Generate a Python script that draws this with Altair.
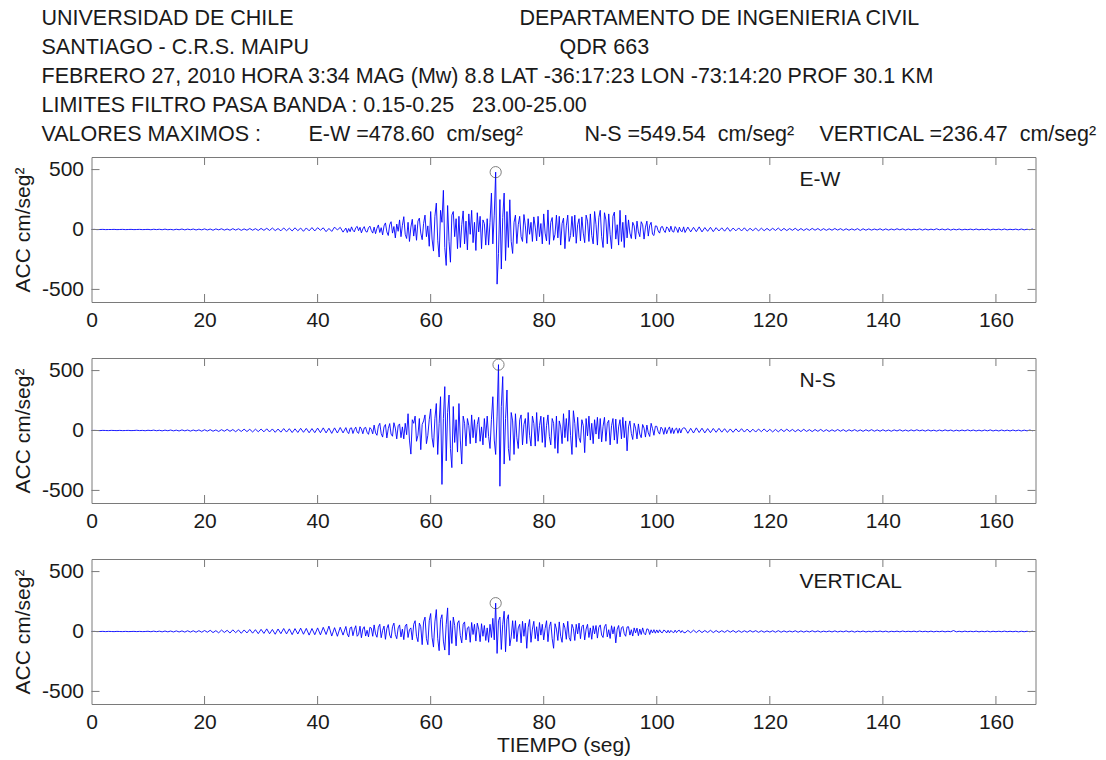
import altair as alt
import numpy as np
import pandas as pd

DT_SLOW, DT_FAST = 0.5, 0.25

EW_PRE = [
    0, 1, -1, 0, 1, -1, 0, 0, 1, -1, 0, 1, -1, 0, 1, -1, 0, 1, -1, 0,
    1, -2, 2, -1, 2, -2, 3, -2, 1, -3, 2, -2, 4, -3, 3, -2, 4, -4, 3, -3,
    5, -4, 4, -6, 5, -3, 6, -5, 4, -6, 7, -5, 6, -7, 5, -6, 8, -6, 7, -8,
    9, -7, 10, -8, 12, -9, 8, -11, 13, -10, 11, -12, 14, -10, 12, -15, 13, -11, 16, -12,
    15, -6, 14, -18, 9, -16, 20, -4, 18, -22,
]
EW_MAIN = [
    12, -25, 8, -18, 22, -6, -20, 15, 26, -10, 18, -28, 5, 24, -15, -22, 14, 28, -8, -30,
    20, -35, 10, 38, -25, 15, -45, 30, 55, -20, -50, 40, 65, -30, 25, -70, 45, -15, 80, -60,
    35, 107, -40, -75, 60, -100, 20, 85, -55, 40, -90, 70, 95, -30, -85, 50, 120, -60, 30, -140,
    150, -80, -180, 110, 220, -90, -230, 160, 60, 327, -150, -300, 200, -100, -273, 120, 150, -60, 90, -160,
    110, -150, 40, 155, -120, 70, -170, 130, -40, 160, -110, 60, -175, 140, -20, 110, -160, 80, 50, -130,
    90, -130, 60, 304, -120, 120, 478.60, -456, -200, 250, -330, 100, 304, -259, 150, -150, 248, -100, -200, 60,
    120, -118, 40, 110, -60, -100, 125, 30, -115, 90, -40, 60, -100, 105, 20, -95, 110, -60, 50, -120,
    130, -30, -95, 163, -125, 60, 100, -90, -40, 120, -70, 110, -130, 50, 95, -160, 30, 120, -100, -50,
    110, -60, 120, -115, 40, 90, -95, 105, -30, -110, 120, 70, -100, 130, -50, -120, 150, 40, -130, 100,
    160, -60, -150, 140, 80, -120, 130, -40, -160, 110, 145, -80, 40, -130, 160, -100, 60, -150, 120, -70,
    80, -30, -75, 60, 30, -80, 70, -20, -60, 65, 40, -80, 20, 70, -55, 35, 60, -40, -50, 30,
    28, -12, -30, 20, 25, -8, -25, 22, 10, -20, 28, -15, -22, 24, 6, -25, 20, -12, -18, 22,
]
EW_POST = [
    -25, 20, -20, 18, -18, 22, -20, 16, -15, 18,
    -18, 15, -12, 14, -14, 16, -15, 12, -11, 13, -12, 14, -13, 10, -10, 12, -12, 11, -10, 9,
    -9, 10, -8, 12, -10, 9, -9, 8, -7, 10, -9, 8, -8, 7, -7, 9, -6, 8, -8, 7,
    -7, 6, -6, 8, -5, 7, -7, 6, -6, 5, -5, 7, -8, 6, -6, 5, -5, 4, -4, 6,
    -6, 5, -5, 4, -4, 6, -3, 5, -5, 4, -4, 3, -3, 5, -5, 4, -4, 3, -3, 6,
    -3, 4, -4, 5, -5, 3, -3, 4, -4, 2, -2, 3, -3, 4, -3, 2, -2, 4, -4, 3,
    -2, 3, -3, 4, -3, 2, -2, 3, -3, 4, -3, 2, -2, 5,
]

NS_PRE = [
    0, 1, 0, -1, 1, 0, -1, 1, 0, -1, 1, -1, 0, 1, -1, 0, 2, -1, 1, -2,
    2, -1, 3, -2, 2, -3, 3, -2, 4, -3, 3, -4, 5, -3, 4, -5, 4, -4, 5, -6,
    6, -5, 7, -6, 5, -8, 7, -6, 9, -7, 8, -10, 9, -8, 11, -9, 10, -12, 11, -10,
    12, -11, 14, -12, 13, -15, 12, -14, 16, -13, 15, -17, 14, -16, 18, -15, 17, -19, 16, -18,
    20, -18, 22, -20, 19, -24, 22, -21, 25, -20,
]
NS_MAIN = [
    24, -10, -26, 18, 22, -25, 8, 28, -14, -24, 30, 12, -27, 20, 26, -15, -32, 24, 10, -28,
    45, -20, -40, 35, 60, -25, -55, 30, 50, -62, 15, 58, -30, -48, 65, 20, -70, 40, 55, -60,
    30, -70, 60, -35, 140, -80, -197, 90, 60, 120, -90, -40, 100, -160, 50, 80, 130, -110, -40, 90,
    180, -60, -140, 100, 225, -200, 60, 282, -450, 100, 366, -253, 150, 296, -150, -310, 200, -100, 90, -180,
    225, -80, -280, 120, 60, -130, 100, 40, -110, 130, -60, 90, -105, 50, 110, -90, 30, -120, 100, -60,
    120, -50, -150, 90, 282, -80, -200, 120, 549.54, -465, 200, 450, -280, 100, 338, -150, -250, 150, 80, -200,
    140, -60, -150, 90, 130, -120, 50, 100, -110, 150, -40, -130, 120, 60, -130, 150, -90, 40, 120, -100,
    110, -140, 40, 130, -50, -120, 100, 60, -150, 120, -190, 80, 30, -110, 140, -60, 100, -90, 170, -40,
    -200, 165, 60, -140, 110, -60, -100, 90, 40, -185, 100, -45, 120, -80, 60, -110, 90, -30, 110, -70,
    100, -95, 35, 110, -90, 60, 85, -120, 40, 100, -80, 95, -110, 30, 90, -70, 110, -60, 80, -170,
    30, 80, -25, -75, 60, 20, -70, 55, -30, -60, 50, 20, -55, 45, -20, -50, 60, 15, -40, 35,
    35, -10, -30, 28, 12, -32, 25, -27, 8, 30, -24, 22, -26, 10, 20, -23, 18, -21, 14, 22,
]
NS_POST = [
    20, -23, 18, -21, 22, -17, 19, -20, 16, -18,
    17, -15, 18, -14, 15, -16, 13, -15, 14, -12, 15, -13, 12, -14, 11, -13, 12, -10, 13, -11,
    10, -12, 9, -11, 10, -9, 11, -8, 9, -10, 8, -9, 10, -8, 7, -9, 8, -7, 9, -8,
    7, -8, 6, -7, 8, -6, 7, -8, 6, -5, 7, -6, 5, -7, 6, -5, 7, -6, 5, -6,
    6, -5, 4, -6, 5, -4, 6, -5, 4, -5, 5, -4, 6, -3, 4, -5, 5, -4, 3, -5,
    4, -4, 5, -3, 4, -5, 3, -4, 4, -3, 5, -3, 4, -4, 3, -4, 4, -3, 5, -4,
    3, -4, 4, -3, 3, -4, 4, -3, 3, -4, 3, -3, 4, -3,
]

VT_PRE = [
    0, 1, -1, 0, 1, -1, 1, 0, -1, 1, 0, -1, 1, -1, 0, 1, -1, 1, -1, 0,
    2, -2, 3, -2, 3, -3, 4, -3, 4, -4, 5, -4, 5, -5, 6, -5, 6, -6, 7, -6,
    8, -6, 10, -9, 7, -11, 12, -8, 10, -13, 14, -10, 12, -15, 13, -12, 17, -14, 15, -18,
    18, -16, 22, -19, 17, -23, 21, -18, 25, -20, 22, -26, 24, -21, 28, -23, 26, -30, 25, -27,
    30, -28, 35, -25, 45, -38, 32, -40, 36, -30,
]
VT_MAIN = [
    42, -20, -45, 30, 38, -35, 15, 48, -40, -25, 44, -52, 20, 40, -38, 10, -45, 35, 28, -40,
    55, -20, -48, 35, 60, -52, 10, 45, -65, 25, 58, -30, -55, 40, 70, -25, -60, 30, 55, -45,
    20, -68, 45, 62, -50, 15, 30, -70, 60, 90, -40, -85, 70, 40, -110, 80, 120, -60, -110, 90,
    150, -50, -130, 80, 183, -60, -160, 100, 140, -80, -155, 60, 197, -197, 90, -100, 120, 50, -120, 70,
    90, -35, -95, 60, 80, -70, 30, 40, -90, 75, -25, 60, -80, 70, 20, -85, 65, -40, 50, -75,
    30, -90, 60, -50, 110, -70, 236.47, -183, 90, 120, -150, 60, 169, -169, 100, 140, -120, -45, 90, -60,
    90, -85, 30, 60, -95, 85, -40, 70, -140, 35, 100, -90, 20, 85, -60, 40, -80, 75, -30, 60,
    -70, 25, 90, -85, 40, 80, -60, -140, 65, 20, -75, 80, -40, -90, 70, 30, -65, 85, -50, -80,
    60, 25, -75, 60, -20, 70, -60, 40, 55, -70, 20, 60, -50, 30, -65, 48, -20, 50, -55, 35,
    55, -30, -50, 40, 60, -45, 15, -58, 48, -20, 40, -95, 20, 50, -45, 30, 42, -18, -40, 38,
    40, -30, 15, -38, 30, -12, 28, -35, 20, -25, 30, -15, -28, 22, 18, -25, 14, -12, 15, -14,
    13, -11, 14, -6, -10, 12, 5, -12, 10, -11, 9, -4, -10, 11, -9, 6, 10, -9, 8, -8,
]
VT_POST = [
    -11, 9, -10, 11, -9, 10, -9, 8, -8, 10,
    -9, 8, -8, 7, -7, 9, -6, 8, -8, 7, -7, 6, -6, 8, -5, 7, -7, 6, -6, 5,
    -5, 6, -6, 7, -6, 5, -5, 4, -4, 6, -6, 5, -5, 4, -4, 6, -4, 5, -5, 3,
    -3, 4, -4, 5, -4, 3, -3, 5, -4, 4, -5, 3, -3, 4, -4, 2, -3, 3, -2, 4,
    -3, 3, -4, 2, -2, 3, -3, 4, -2, 2, -2, 3, -3, 4, -2, 2, -3, 3, -3, 2,
    -2, 3, -3, 2, -2, 8, -3, 2, -3, 3, -2, 2, -2, 3, -3, 2, -2, 3, -3, 2,
    -2, 2, -2, 3, -2, 2, -2, 2, -3, 2, -2, 2, -2, 3,
]

COMPONENTS = ["E-W", "N-S", "VERTICAL"]
PEAKS = [478.60, 549.54, 236.47]
X_TICKS = [0, 20, 40, 60, 80, 100, 120, 140, 160]
Y_TICKS = [-500, 0, 500]
X_DOMAIN = [0, 167]
Y_DOMAIN = [-605, 605]

HEAD_LEFT = [
    "UNIVERSIDAD DE CHILE",
    "SANTIAGO - C.R.S. MAIPU",
    "FEBRERO 27, 2010 HORA 3:34 MAG (Mw) 8.8 LAT -36:17:23 LON -73:14:20 PROF 30.1 KM",
    "LIMITES FILTRO PASA BANDA : 0.15-0.25 \u00a0 23.00-25.00",
    "VALORES MAXIMOS :",
]
HEAD_RIGHT = ["DEPARTAMENTO DE INGENIERIA CIVIL", "QDR 663"]
YTITLE = "ACC cm/seg\u00b2"
XTITLE = "TIEMPO (seg)"

FONT = "Liberation Sans"
TXT = "#1a1a1a"
W, H = 944, 145
TICK = 8


def build_frame(pre, main, post):
    t0 = np.arange(len(pre)) * DT_SLOW
    s1 = len(pre) * DT_SLOW
    t1 = s1 + np.arange(len(main)) * DT_FAST
    s2 = s1 + len(main) * DT_FAST
    t2 = s2 + np.arange(len(post)) * DT_SLOW
    return pd.DataFrame({"t": np.concatenate([t0, t1, t2]),
                         "a": list(pre) + list(main) + list(post)})


def text_layer(txt, x, y, size=21.5, align="left"):
    return alt.Chart(alt.Data(values=[{"s": txt}])).mark_text(
        font=FONT, fontSize=size, color=TXT, align=align, baseline="middle"
    ).encode(text="s:N", x=alt.value(x), y=alt.value(y))


def panel(df, name, last, header):
    ipk = int(np.argmax(df["a"].values))
    pk = df.iloc[[ipk]]
    xs = alt.Scale(domain=X_DOMAIN, nice=False, zero=False)
    ys = alt.Scale(domain=Y_DOMAIN, nice=False)
    xkw = dict(values=X_TICKS, tickSize=0, domain=False, grid=False, labelPadding=7,
               labelFlush=False, labelOverlap=False, labelFontSize=21, format="d",
               titleFontSize=21, titleFontWeight="normal", titlePadding=2)
    xkw["title"] = XTITLE if last else None
    XAX = alt.Axis(**xkw)
    YAX = alt.Axis(values=Y_TICKS, tickSize=0, domain=False, grid=False, labelPadding=8,
                   labelFontSize=21, title=YTITLE, titleFontSize=21, titleFontWeight="normal",
                   titlePadding=8,
                   labelExpr="datum.value < 0 ? '-' + abs(datum.value) : '' + datum.value")

    line = alt.Chart(df).mark_line(color="#0000ff", strokeWidth=0.9, clip=True).encode(
        x=alt.X("t:Q", scale=xs, axis=XAX), y=alt.Y("a:Q", scale=ys, axis=YAX)
    )
    circ = alt.Chart(pk).mark_point(shape="circle", filled=False, size=125,
                                    color="#4a4a4a", strokeWidth=1).encode(
        x=alt.X("t:Q", scale=xs, axis=XAX), y=alt.Y("a:Q", scale=ys, axis=YAX)
    )
    xt = pd.DataFrame({"v": X_TICKS[1:]})
    yt = pd.DataFrame({"v": Y_TICKS})
    tcol = "#7a7a7a"
    tb = alt.Chart(xt).mark_rule(color=tcol).encode(
        x=alt.X("v:Q", scale=xs, axis=XAX), y=alt.value(H - TICK), y2=alt.value(H))
    tt = alt.Chart(xt).mark_rule(color=tcol).encode(
        x=alt.X("v:Q", scale=xs, axis=XAX), y=alt.value(0), y2=alt.value(TICK))
    tl = alt.Chart(yt).mark_rule(color=tcol).encode(
        y=alt.Y("v:Q", scale=ys, axis=YAX), x=alt.value(0), x2=alt.value(TICK))
    tr = alt.Chart(yt).mark_rule(color=tcol).encode(
        y=alt.Y("v:Q", scale=ys, axis=YAX), x=alt.value(W - TICK), x2=alt.value(W))
    lab = text_layer(name, 708, 23, size=21)
    layers = [line, tb, tt, tl, tr, circ, lab]
    if header:
        ys_ = [-138, -109, -80, -51, -22]
        for txt, yy in zip(HEAD_LEFT, ys_):
            layers.append(text_layer(txt, -50, yy))
        layers.append(text_layer(HEAD_RIGHT[0], 428, ys_[0]))
        layers.append(text_layer(HEAD_RIGHT[1], 468, ys_[1]))
        maxes = [f"{c} ={v:.2f}\u00a0 cm/seg\u00b2" for c, v in zip(COMPONENTS, PEAKS)]
        for txt, xx in zip(maxes, [217, 493, 728]):
            layers.append(text_layer(txt, xx, ys_[4]))
    return alt.layer(*layers).properties(width=W, height=H)


frames = [build_frame(EW_PRE, EW_MAIN, EW_POST),
          build_frame(NS_PRE, NS_MAIN, NS_POST),
          build_frame(VT_PRE, VT_MAIN, VT_POST)]

chart = alt.vconcat(
    panel(frames[0], COMPONENTS[0], False, True),
    panel(frames[1], COMPONENTS[1], False, False),
    panel(frames[2], COMPONENTS[2], True, False),
    spacing=56, bounds="flush",
).properties(
    padding={"left": 11.5, "top": 7, "right": 5, "bottom": 5}, background="white"
).configure_view(
    stroke="#7a7a7a", strokeWidth=1
).configure_axis(
    labelFont=FONT, titleFont=FONT, labelColor=TXT, titleColor=TXT
)

chart.save("out.html", embed_options={"renderer": "svg", "actions": False})
